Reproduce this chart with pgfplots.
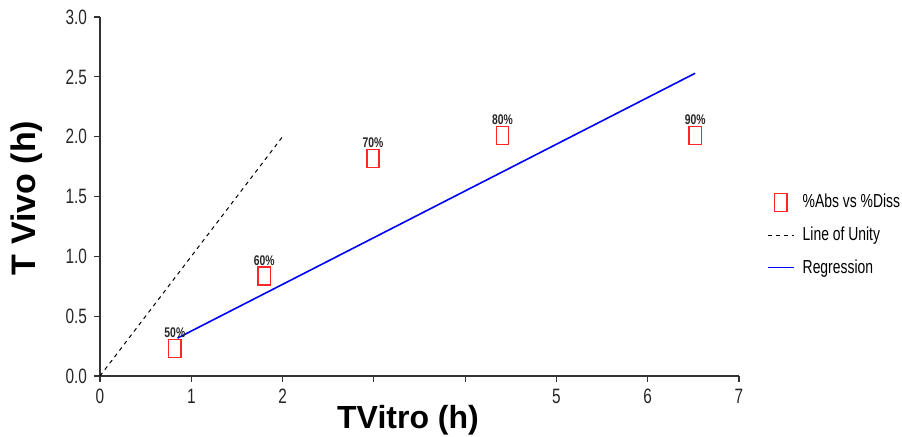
\documentclass[border=0pt]{standalone}
\usepackage{fontspec}
\setmainfont{Liberation Sans}
\newfontfamily\narrowfont[FakeStretch=0.74]{Liberation Sans}
\usepackage{pgfplots}
\pgfplotsset{compat=1.18}
\pgfplotsset{
  shortline legend/.style={legend image code/.code={\draw[##1] (0pt,0pt) -- (13pt,0pt); \path (15pt,0pt);}},
  blueline legend/.style={legend image code/.code={\draw[##1, draw=blue, solid, line width=0.8pt] (0pt,0pt) -- (13pt,0pt); \path (15pt,0pt);}},
  shortmark legend/.style={legend image code/.code={\draw[mark repeat=2,mark phase=2,##1] plot coordinates {(0pt,0pt) (6.5pt,0pt) (13pt,0pt)}; \path (15pt,0pt);}},
}
\begin{document}
\begin{tikzpicture}
\begin{axis}[
  scale only axis,
  width=319.5pt, height=179.5pt,
  xmin=0, xmax=7, ymin=0, ymax=3,
  axis lines=left,
  axis line style={-, line width=0.8pt, draw=black!80},
  xtick={0,1,2,3,4,5,6,7},
  xticklabels={0,1,2,,,5,6,7},
  ytick={0,0.5,1,1.5,2,2.5,3},
  yticklabel style={/pgf/number format/.cd, fixed, fixed zerofill, precision=1},
  /pgf/number format/assume math mode=true,
  tick label style={font=\narrowfont\fontsize{10.4}{12}\selectfont, text=black!85},
  major tick length=3pt,
  tick align=outside,
  tick style={line width=0.6pt, black!80},
  xlabel={\bfseries TVitro (h)},
  ylabel={\bfseries T Vivo (h)},
  xlabel style={font=\fontsize{16}{18}\selectfont, at={(axis description cs:0.482,0)}, anchor=north, yshift=-11pt},
  ylabel style={font=\fontsize{17}{19}\selectfont, at={(axis description cs:-0.114,0.496)}, anchor=center},
  legend style={draw=none, fill=none, font=\narrowfont\fontsize{9.4}{10}\selectfont,
    at={(axis description cs:1.034,0.53)}, anchor=north west, row sep=4pt},
  legend cell align=left,
  clip=false,
]
\addplot[only marks, mark=square, mark size=4.5pt, red, mark options={xscale=0.68, line width=0.7pt, draw=red!85},
  point meta=explicit,
  nodes near coords={\pgfmathprintnumber{\pgfplotspointmeta}\%},
  every node near coord/.append style={font=\narrowfont\bfseries\fontsize{7}{8}\selectfont, text=black!85, anchor=south, yshift=4pt, inner sep=1pt},
  shortmark legend,
] table[meta=p] {
x y p
0.82 0.23 50
1.80 0.835 60
2.99 1.82 70
4.41 2.01 80
6.52 2.01 90
};
\addlegendentry{\%Abs vs \%Diss}
\addplot[black, dash pattern=on 2pt off 2pt, line width=0.5pt, shortline legend] coordinates {(0,0) (2,2)};
\addlegendentry{Line of Unity}
\addplot[color=blue, line width=0.8pt, blueline legend] coordinates {(0.85,0.317) (6.52,2.53)};
\addlegendentry{Regression}
\end{axis}
\pgfresetboundingbox
\path[use as bounding box] (-50pt,-30pt) rectangle (401pt,188pt);
\end{tikzpicture}
\end{document}
